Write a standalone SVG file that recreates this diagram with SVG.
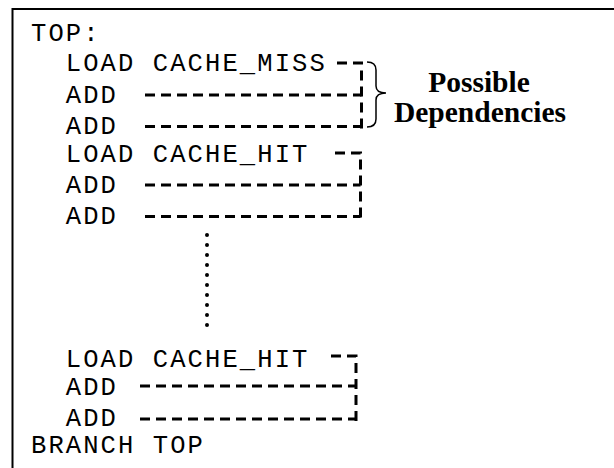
<svg xmlns="http://www.w3.org/2000/svg" width="614" height="468" viewBox="0 0 614 468">
<style>
.code{font-family:"Liberation Mono","Courier New",monospace;font-size:25.5px;letter-spacing:2.1px;fill:#000}
.lbl{font-family:"Liberation Serif","Times New Roman",serif;font-size:29.5px;font-weight:bold;fill:#000;text-anchor:middle}
.dash{fill:none;stroke:#000;stroke-width:3;stroke-dasharray:10 6}
.frame{fill:none;stroke:#000;stroke-width:2}
</style>
<rect width="614" height="468" fill="#fff"/>
<path class="frame" d="M12.5 469 V9 H615"/>
<g id="line-top"><text class="code" x="31" y="41">TOP:</text></g>
<g id="line-load-miss"><text class="code" x="65.8" y="71">LOAD CACHE_MISS</text></g>
<g id="line-add1"><text class="code" x="65.8" y="103">ADD</text></g>
<g id="line-add2"><text class="code" x="65.8" y="134">ADD</text></g>
<g id="line-load-hit1"><text class="code" x="65.8" y="162">LOAD CACHE_HIT</text></g>
<g id="line-add3"><text class="code" x="65.8" y="193">ADD</text></g>
<g id="line-add4"><text class="code" x="65.8" y="224">ADD</text></g>
<g id="ellipsis"><line x1="207" y1="235" x2="207" y2="326" stroke="#000" stroke-width="4" stroke-linecap="round" stroke-dasharray="0 10"/></g>
<g id="line-load-hit2"><text class="code" x="65.8" y="367">LOAD CACHE_HIT</text></g>
<g id="line-add5"><text class="code" x="65.8" y="394.5">ADD</text></g>
<g id="line-add6"><text class="code" x="65.8" y="425.5">ADD</text></g>
<g id="line-branch"><text class="code" x="31" y="453">BRANCH TOP</text></g>
<g id="label-deps">
<path d="M367 62 Q376 62 376 70 V86 Q376 93 386 93 Q376 93 376 100 V119 Q376 127 367 127" fill="none" stroke="#000" stroke-width="1.5"/>
<text class="lbl" x="479" y="92">Possible</text>
<text class="lbl" x="480" y="122">Dependencies</text>
</g>
<g id="connectors">
<path class="dash" d="M337 63 H361.5 V131"/>
<path class="dash" d="M145 95 H361.5"/>
<path class="dash" d="M145 126.5 H361.5"/>
<path class="dash" d="M335 153 H360.5 V221"/>
<path class="dash" d="M145 185 H360.5"/>
<path class="dash" d="M145 216.5 H360.5"/>
<path class="dash" d="M331 356 H356 V424"/>
<path class="dash" d="M140 386 H356"/>
<path class="dash" d="M140 419 H356"/>
</g>
</svg>
